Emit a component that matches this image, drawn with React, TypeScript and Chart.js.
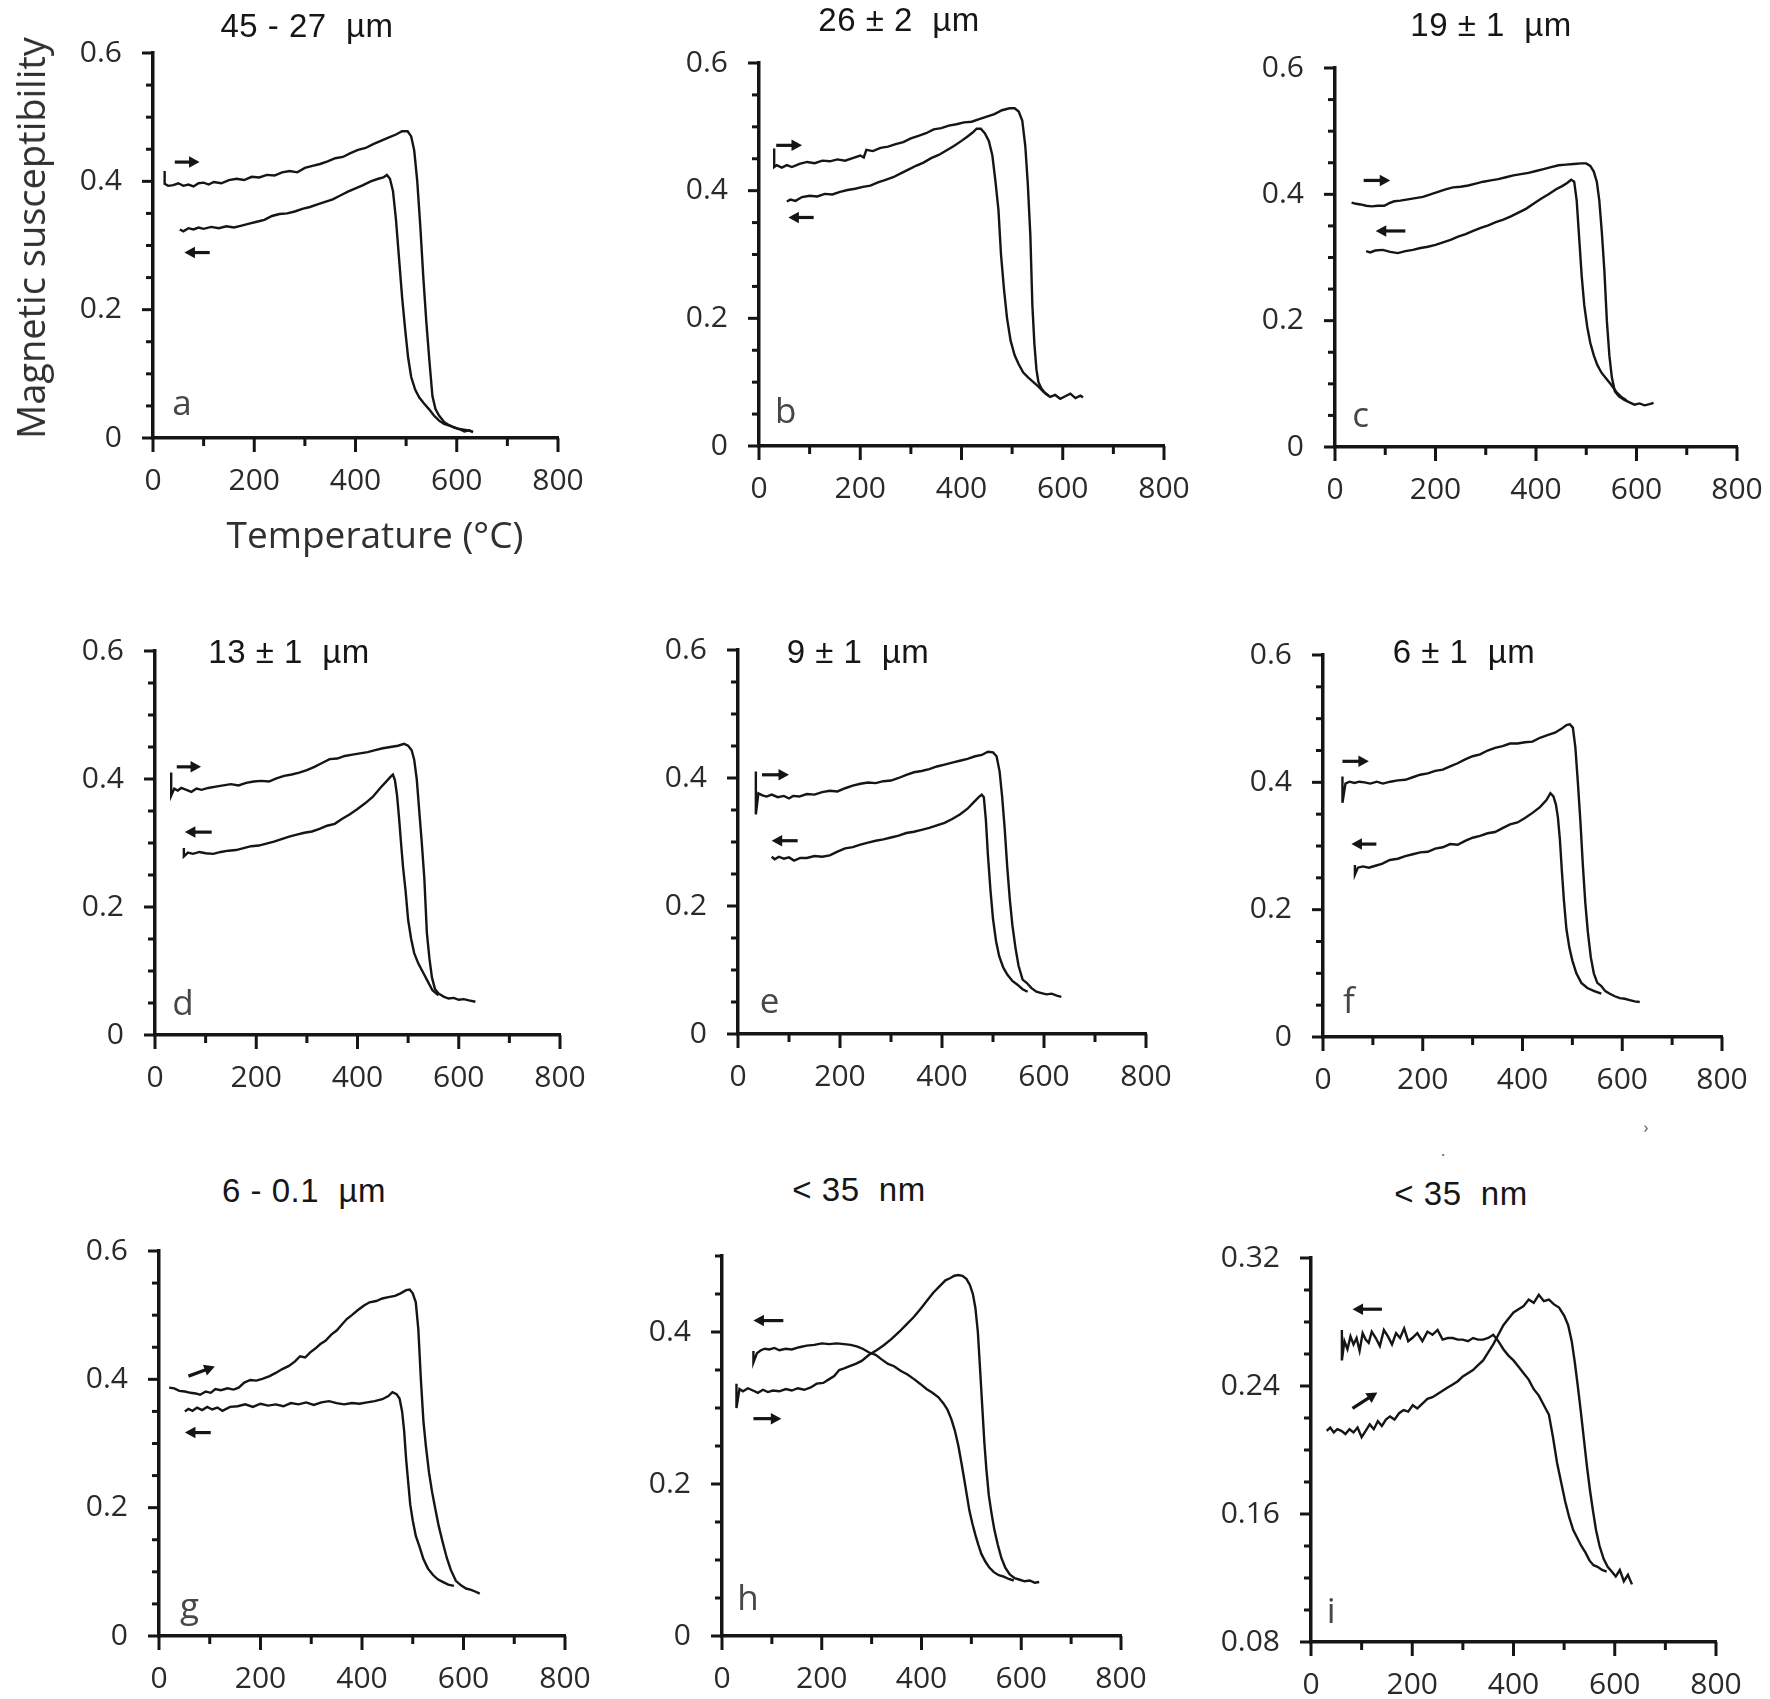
import React, { useEffect, useRef } from "react";
import { Chart, registerables } from "chart.js";

Chart.register(...registerables);

// ---- data: temperature (°C) and susceptibility, heating (up) and cooling (down) ----

// a: 45 - 27 µm
const aUpT = [23, 23, 30, 40, 50, 60, 70, 80, 90, 100, 110, 120, 135, 150, 165, 180, 195, 210, 225, 240, 255, 270, 285, 300, 315, 330, 345, 360, 375, 390, 405, 420, 435, 450, 465, 480, 492, 503, 510, 516, 522, 528, 534, 540, 546, 552, 558, 565, 575, 585, 595, 605, 615, 625, 632];
const aUpK = [0.416, 0.396, 0.393, 0.394, 0.397, 0.393, 0.395, 0.392, 0.397, 0.398, 0.395, 0.399, 0.397, 0.402, 0.404, 0.402, 0.407, 0.406, 0.41, 0.409, 0.414, 0.416, 0.414, 0.421, 0.424, 0.427, 0.431, 0.436, 0.438, 0.444, 0.449, 0.452, 0.458, 0.463, 0.468, 0.473, 0.478, 0.478, 0.47, 0.448, 0.4, 0.33, 0.25, 0.18, 0.12, 0.065, 0.045, 0.035, 0.025, 0.02, 0.016, 0.014, 0.01, 0.012, 0.009];
const aDnT = [53, 60, 70, 80, 90, 100, 115, 130, 145, 160, 175, 190, 205, 220, 235, 250, 265, 280, 295, 310, 325, 340, 355, 370, 385, 400, 415, 430, 445, 455, 462, 468, 474, 480, 486, 492, 498, 504, 510, 518, 526, 535, 545, 555, 565, 575, 590, 605, 620, 632];
const aDnK = [0.325, 0.322, 0.327, 0.325, 0.328, 0.326, 0.329, 0.327, 0.33, 0.328, 0.331, 0.334, 0.337, 0.34, 0.346, 0.349, 0.35, 0.353, 0.357, 0.36, 0.364, 0.368, 0.372, 0.378, 0.384, 0.389, 0.394, 0.4, 0.404, 0.406, 0.41, 0.404, 0.385, 0.34, 0.28, 0.22, 0.17, 0.125, 0.095, 0.075, 0.063, 0.054, 0.045, 0.035, 0.027, 0.022, 0.018, 0.014, 0.012, 0.01];

// b: 26 ± 2 µm
const bUpT = [30, 30, 35, 45, 55, 65, 80, 95, 110, 125, 140, 155, 170, 185, 200, 207, 212, 225, 240, 255, 270, 285, 300, 315, 330, 345, 360, 375, 390, 405, 420, 435, 450, 465, 480, 495, 505, 513, 520, 526, 531, 536, 540, 544, 548, 552, 558, 566, 575, 585, 595, 605, 615, 625, 635, 640];
const bUpK = [0.466, 0.437, 0.44, 0.436, 0.44, 0.437, 0.442, 0.445, 0.443, 0.447, 0.446, 0.449, 0.447, 0.451, 0.455, 0.452, 0.464, 0.462, 0.467, 0.469, 0.473, 0.476, 0.482, 0.486, 0.49, 0.496, 0.498, 0.502, 0.504, 0.507, 0.508, 0.512, 0.516, 0.52, 0.526, 0.529, 0.529, 0.524, 0.51, 0.47, 0.41, 0.33, 0.22, 0.16, 0.12, 0.1, 0.09, 0.082, 0.077, 0.08, 0.074, 0.078, 0.082, 0.075, 0.079, 0.076];
const bDnT = [55, 62, 72, 85, 100, 115, 130, 145, 160, 175, 190, 205, 220, 235, 250, 265, 280, 295, 310, 325, 340, 355, 370, 385, 400, 412, 422, 430, 438, 446, 454, 461, 467, 473, 478, 484, 490, 497, 505, 513, 522, 532, 542, 552, 562, 572];
const bDnK = [0.383, 0.386, 0.384, 0.39, 0.392, 0.391, 0.395, 0.394, 0.398, 0.401, 0.403, 0.406, 0.408, 0.413, 0.417, 0.421, 0.427, 0.433, 0.439, 0.444, 0.451, 0.456, 0.463, 0.47, 0.478, 0.485, 0.491, 0.497, 0.497, 0.49, 0.478, 0.455, 0.415, 0.37, 0.3, 0.245, 0.2, 0.165, 0.142, 0.128, 0.115, 0.107, 0.1, 0.093, 0.085, 0.079];

// c: 19 ± 1 µm
const cUpT = [33, 42, 51, 62, 73, 85, 98, 108, 118, 130, 145, 160, 175, 190, 205, 220, 235, 250, 265, 280, 295, 310, 325, 340, 355, 370, 385, 400, 415, 430, 445, 460, 475, 490, 500, 508, 515, 521, 526, 531, 536, 541, 546, 551, 557, 565, 575, 585, 596, 606, 616, 626, 634];
const cUpK = [0.387, 0.385, 0.384, 0.382, 0.381, 0.382, 0.382, 0.386, 0.389, 0.39, 0.392, 0.394, 0.396, 0.4, 0.404, 0.408, 0.411, 0.412, 0.414, 0.417, 0.42, 0.422, 0.424, 0.427, 0.43, 0.432, 0.434, 0.437, 0.44, 0.443, 0.446, 0.447, 0.448, 0.449, 0.449, 0.445, 0.436, 0.42, 0.39, 0.34, 0.28, 0.2, 0.145, 0.11, 0.088, 0.08, 0.075, 0.071, 0.067, 0.069, 0.066, 0.068, 0.07];
const cDnT = [62, 70, 80, 95, 110, 125, 140, 155, 170, 185, 200, 215, 230, 245, 260, 275, 290, 305, 320, 335, 350, 365, 380, 395, 410, 425, 440, 452, 462, 470, 476, 481, 486, 491, 496, 502, 508, 515, 522, 530, 540, 550, 560, 570, 580];
const cDnK = [0.31, 0.308, 0.311, 0.312, 0.309, 0.307, 0.31, 0.312, 0.315, 0.317, 0.32, 0.324, 0.328, 0.333, 0.337, 0.342, 0.347, 0.351, 0.356, 0.36, 0.365, 0.371, 0.377, 0.385, 0.393, 0.4, 0.408, 0.413, 0.418, 0.423, 0.42, 0.39, 0.33, 0.27, 0.225, 0.19, 0.165, 0.145, 0.13, 0.118, 0.108, 0.098, 0.087, 0.079, 0.074];

// d: 13 ± 1 µm
const dUpT = [32, 32, 38, 45, 52, 62, 72, 82, 92, 105, 120, 135, 150, 165, 180, 195, 210, 225, 240, 255, 270, 285, 300, 315, 330, 345, 360, 375, 390, 405, 420, 435, 450, 465, 480, 492, 500, 507, 512, 517, 522, 527, 532, 537, 542, 547, 553, 560, 570, 580, 590, 600, 610, 620, 633];
const dUpK = [0.41, 0.374, 0.385, 0.382, 0.386, 0.383, 0.38, 0.385, 0.383, 0.386, 0.388, 0.39, 0.392, 0.39, 0.394, 0.396, 0.397, 0.396, 0.401, 0.405, 0.407, 0.41, 0.414, 0.419, 0.425, 0.431, 0.432, 0.436, 0.438, 0.44, 0.442, 0.445, 0.448, 0.45, 0.452, 0.455, 0.452, 0.445, 0.43, 0.4, 0.35, 0.3, 0.245, 0.16, 0.12, 0.09, 0.072, 0.065, 0.06, 0.057, 0.058, 0.055, 0.056, 0.054, 0.052];
const dDnT = [57, 57, 65, 75, 88, 100, 115, 130, 145, 160, 175, 190, 205, 220, 235, 250, 265, 280, 295, 310, 325, 340, 355, 370, 385, 400, 415, 430, 445, 458, 466, 470, 474, 478, 482, 486, 490, 495, 500, 506, 512, 520, 528, 538, 548, 560];
const dDnK = [0.292, 0.279, 0.285, 0.283, 0.286, 0.284, 0.283, 0.286, 0.288, 0.289, 0.292, 0.295, 0.296, 0.299, 0.302, 0.306, 0.31, 0.313, 0.316, 0.318, 0.322, 0.327, 0.33, 0.338, 0.345, 0.353, 0.362, 0.372, 0.386, 0.397, 0.404, 0.407, 0.398, 0.375, 0.34, 0.3, 0.262, 0.225, 0.18, 0.15, 0.128, 0.112, 0.1, 0.085, 0.07, 0.062];

// e: 9 ± 1 µm
const eUpT = [35, 35, 40, 48, 56, 66, 78, 90, 100, 108, 120, 135, 150, 165, 180, 195, 210, 225, 240, 255, 270, 285, 300, 315, 330, 345, 360, 375, 390, 405, 420, 435, 450, 465, 478, 490, 500, 507, 513, 518, 523, 528, 533, 538, 544, 550, 558, 566, 575, 585, 595, 605, 615, 625, 634];
const eUpK = [0.41, 0.343, 0.376, 0.373, 0.371, 0.374, 0.37, 0.372, 0.368, 0.372, 0.371, 0.375, 0.374, 0.378, 0.38, 0.379, 0.384, 0.388, 0.391, 0.393, 0.392, 0.395, 0.396, 0.4, 0.405, 0.409, 0.411, 0.414, 0.418, 0.421, 0.424, 0.427, 0.43, 0.434, 0.436, 0.441, 0.44, 0.434, 0.41, 0.37, 0.32, 0.26, 0.21, 0.17, 0.135, 0.107, 0.085, 0.08, 0.072, 0.066, 0.064, 0.062, 0.063, 0.06, 0.058];
const eDnT = [66, 72, 80, 90, 100, 110, 122, 135, 150, 165, 180, 195, 210, 225, 240, 255, 270, 285, 300, 315, 330, 345, 360, 375, 390, 405, 420, 435, 450, 462, 472, 478, 482, 486, 490, 495, 500, 506, 512, 520, 528, 538, 548, 558, 568];
const eDnK = [0.277, 0.273, 0.277, 0.274, 0.276, 0.271, 0.275, 0.275, 0.278, 0.277, 0.279, 0.285, 0.29, 0.292, 0.296, 0.299, 0.302, 0.304, 0.307, 0.31, 0.314, 0.316, 0.319, 0.322, 0.326, 0.33, 0.336, 0.343, 0.352, 0.362, 0.37, 0.374, 0.37, 0.335, 0.28, 0.225, 0.18, 0.145, 0.122, 0.104, 0.093, 0.083, 0.077, 0.07, 0.066];

// f: 6 ± 1 µm
const fUpT = [39, 39, 45, 53, 63, 73, 83, 95, 108, 120, 135, 150, 165, 180, 195, 210, 225, 240, 255, 270, 285, 300, 315, 330, 345, 360, 375, 390, 405, 420, 435, 450, 465, 478, 488, 495, 501, 506, 511, 516, 521, 526, 531, 537, 543, 550, 558, 566, 575, 585, 595, 605, 615, 625, 635];
const fUpK = [0.409, 0.368, 0.398, 0.401, 0.399, 0.401, 0.4, 0.398, 0.401, 0.398, 0.401, 0.403, 0.404, 0.408, 0.412, 0.414, 0.418, 0.42, 0.425, 0.43, 0.436, 0.441, 0.444, 0.45, 0.454, 0.457, 0.461, 0.461, 0.463, 0.464, 0.47, 0.474, 0.478, 0.484, 0.49, 0.491, 0.486, 0.455, 0.4, 0.34, 0.27, 0.21, 0.165, 0.125, 0.1, 0.085, 0.08, 0.072, 0.068, 0.064, 0.061, 0.06, 0.058, 0.056, 0.055];
const fDnT = [64, 64, 70, 80, 92, 105, 118, 134, 150, 165, 180, 195, 210, 225, 240, 255, 270, 285, 300, 315, 330, 345, 360, 375, 390, 405, 420, 435, 448, 456, 462, 467, 471, 475, 479, 483, 488, 494, 500, 508, 518, 530, 544, 558];
const fDnK = [0.27, 0.255, 0.266, 0.268, 0.266, 0.269, 0.272, 0.278, 0.28, 0.284, 0.287, 0.29, 0.291, 0.296, 0.298, 0.303, 0.302, 0.308, 0.313, 0.316, 0.32, 0.322, 0.328, 0.334, 0.337, 0.344, 0.352, 0.361, 0.372, 0.383, 0.378, 0.365, 0.345, 0.31, 0.26, 0.215, 0.17, 0.14, 0.12, 0.1, 0.085, 0.077, 0.072, 0.068];

// g: 6 - 0.1 µm
const gUpT = [20, 30, 40, 51, 62, 72, 81, 92, 102, 111, 122, 135, 147, 157, 168, 180, 192, 205, 218, 230, 243, 256, 268, 278, 288, 298, 308, 318, 328, 340, 350, 360, 370, 380, 392, 404, 415, 428, 440, 452, 465, 476, 487, 494, 500, 506, 511, 516, 521, 526, 532, 538, 544, 551, 559, 567, 575, 585, 595, 605, 615, 624, 632];
const gUpK = [0.387, 0.386, 0.382, 0.381, 0.379, 0.378, 0.376, 0.381, 0.379, 0.385, 0.383, 0.386, 0.384, 0.387, 0.395, 0.399, 0.398, 0.401, 0.405, 0.41, 0.416, 0.421, 0.428, 0.436, 0.434, 0.442, 0.448, 0.455, 0.46, 0.47, 0.476, 0.485, 0.494, 0.5, 0.508, 0.515, 0.52, 0.522, 0.526, 0.528, 0.53, 0.534, 0.539, 0.54, 0.534, 0.52, 0.478, 0.4, 0.335, 0.295, 0.255, 0.225, 0.2, 0.172, 0.146, 0.122, 0.103, 0.086, 0.079, 0.074, 0.072, 0.069, 0.066];
const gDnT = [51, 58, 66, 75, 85, 95, 105, 115, 125, 140, 155, 170, 185, 200, 215, 230, 245, 260, 275, 290, 305, 320, 335, 350, 365, 380, 395, 410, 425, 440, 452, 460, 468, 474, 479, 483, 487, 491, 495, 500, 506, 513, 521, 530, 540, 550, 560, 570, 581];
const gDnK = [0.35, 0.354, 0.351, 0.356, 0.352, 0.357, 0.353, 0.356, 0.351, 0.357, 0.358, 0.361, 0.357, 0.362, 0.359, 0.361, 0.358, 0.363, 0.361, 0.364, 0.36, 0.364, 0.366, 0.363, 0.361, 0.363, 0.362, 0.364, 0.366, 0.369, 0.374, 0.38, 0.377, 0.37, 0.35, 0.32, 0.275, 0.24, 0.205, 0.18, 0.156, 0.14, 0.12, 0.105, 0.095, 0.088, 0.084, 0.08, 0.078];

// h: < 35 nm
const hUpT = [29, 29, 35, 42, 52, 62, 72, 82, 92, 102, 115, 128, 140, 152, 165, 178, 190, 203, 215, 225, 235, 245, 256, 268, 280, 295, 310, 325, 340, 355, 370, 385, 400, 412, 424, 436, 448, 458, 466, 474, 482, 490, 497, 503, 508, 513, 518, 522, 526, 530, 535, 540, 546, 553, 560, 568, 577, 587, 597, 607, 617, 627, 636];
const hUpK = [0.332, 0.3, 0.325, 0.322, 0.326, 0.323, 0.32, 0.324, 0.321, 0.323, 0.322, 0.325, 0.323, 0.326, 0.324, 0.327, 0.332, 0.333, 0.338, 0.342, 0.35, 0.352, 0.355, 0.358, 0.362, 0.37, 0.376, 0.383, 0.391, 0.4, 0.41, 0.42, 0.432, 0.442, 0.452, 0.46, 0.468, 0.471, 0.474, 0.475, 0.474, 0.47, 0.462, 0.45, 0.432, 0.4, 0.345, 0.3, 0.255, 0.22, 0.185, 0.163, 0.14, 0.12, 0.103, 0.09, 0.081, 0.076, 0.074, 0.072, 0.073, 0.07, 0.071];
const hDnT = [63, 63, 70, 78, 86, 95, 105, 115, 128, 140, 155, 170, 185, 200, 215, 230, 245, 258, 270, 282, 295, 308, 320, 333, 345, 358, 372, 385, 397, 410, 422, 434, 444, 452, 460, 467, 474, 480, 486, 491, 496, 502, 508, 514, 520, 528, 536, 545, 555, 565, 575, 585];
const hDnK = [0.375, 0.36, 0.372, 0.376, 0.378, 0.377, 0.379, 0.376, 0.378, 0.377, 0.38, 0.382, 0.383, 0.385, 0.384, 0.385, 0.384, 0.383, 0.381, 0.378, 0.373, 0.37, 0.364, 0.358, 0.355, 0.349, 0.344, 0.338, 0.332, 0.325, 0.32, 0.314, 0.306, 0.298, 0.285, 0.27, 0.25, 0.228, 0.205, 0.185, 0.165, 0.148, 0.133, 0.12, 0.108, 0.098, 0.09, 0.084, 0.08, 0.078, 0.075, 0.073];

// i: < 35 nm (expanded scale)
const iUpT = [31, 38, 45, 52, 60, 68, 76, 84, 92, 100, 108, 116, 124, 132, 140, 148, 156, 165, 174, 183, 192, 201, 210, 220, 230, 240, 250, 260, 270, 280, 290, 300, 310, 320, 330, 340, 350, 360, 370, 380, 390, 400, 410, 420, 430, 440, 450, 460, 470, 480, 490, 500, 508, 515, 521, 527, 533, 539, 545, 551, 557, 563, 570, 578, 586, 594, 602, 610, 618, 626, 634];
const iUpK = [0.212, 0.214, 0.211, 0.213, 0.212, 0.21, 0.213, 0.211, 0.214, 0.208, 0.212, 0.216, 0.213, 0.218, 0.215, 0.219, 0.221, 0.219, 0.223, 0.225, 0.224, 0.228, 0.226, 0.229, 0.232, 0.233, 0.235, 0.237, 0.239, 0.241, 0.243, 0.246, 0.248, 0.25, 0.253, 0.256, 0.261, 0.266, 0.272, 0.278, 0.282, 0.286, 0.288, 0.29, 0.294, 0.292, 0.297, 0.293, 0.294, 0.291, 0.289, 0.284, 0.278, 0.268, 0.255, 0.24, 0.224, 0.207, 0.19, 0.175, 0.162, 0.15, 0.14, 0.132, 0.127, 0.124, 0.121, 0.125, 0.118, 0.122, 0.116];
const iDnT = [61, 61, 66, 72, 78, 84, 90, 96, 102, 108, 114, 120, 128, 136, 144, 152, 160, 168, 176, 184, 192, 200, 210, 220, 230, 240, 250, 260, 270, 280, 290, 300, 310, 320, 330, 340, 350, 360, 370, 380, 390, 400, 410, 420, 430, 440, 450, 460, 470, 478, 486, 494, 502, 510, 518, 526, 534, 542, 550, 558, 566, 575, 584];
const iDnK = [0.275, 0.256, 0.268, 0.263, 0.271, 0.266, 0.27, 0.262, 0.273, 0.269, 0.267, 0.274, 0.27, 0.265, 0.275, 0.271, 0.266, 0.273, 0.27, 0.276, 0.268, 0.27, 0.273, 0.268, 0.274, 0.272, 0.275, 0.269, 0.27, 0.27, 0.269, 0.269, 0.268, 0.27, 0.269, 0.269, 0.27, 0.272, 0.268, 0.263, 0.259, 0.256, 0.252, 0.248, 0.244, 0.238, 0.234, 0.228, 0.222, 0.208, 0.192, 0.18, 0.168, 0.158, 0.15, 0.145, 0.14, 0.136, 0.131, 0.128, 0.127, 0.125, 0.124];

// direction arrows: [tFrom, tTo, kFrom, kTo]
const aArrows = [[43, 92, 0.43, 0.43], [112, 62, 0.289, 0.289]];
const bArrows = [[34, 85, 0.471, 0.471], [108, 58, 0.358, 0.358]];
const cArrows = [[57, 110, 0.422, 0.422], [140, 81, 0.342, 0.342]];
const dArrows = [[43, 91, 0.419, 0.419], [112, 59, 0.317, 0.317]];
const eArrows = [[47, 100, 0.405, 0.405], [117, 66, 0.302, 0.302]];
const fArrows = [[39, 92, 0.433, 0.433], [107, 57, 0.303, 0.303]];
const gArrows = [[58, 110, 0.405, 0.42], [102, 51, 0.317, 0.317]];
const hArrows = [[123, 63, 0.415, 0.415], [63, 119, 0.286, 0.286]];
const iArrows = [[140, 82, 0.288, 0.288], [82, 131, 0.226, 0.236]];

const xTicksMajor = 200;
const xTicksMinor = 100;

// ---- layout of the nine panels (page pixels) ----
type Panel = {
  id: string;
  title: string;
  upT: number[]; upK: number[]; dnT: number[]; dnK: number[];
  arrows: number[][];
  yMin: number; yMax: number; yMajor: number; yMinor: number;
  letterAt: [number, number];
  left: number; right: number; top: number; bottom: number;
  titleX: number; titleY: number;
};

const PANELS: Panel[] = [
  { id: "a", title: "45 - 27  µm", upT: aUpT, upK: aUpK, dnT: aDnT, dnK: aDnK, arrows: aArrows, yMin: 0, yMax: 0.6, yMajor: 0.2, yMinor: 0.05, letterAt: [57, 0.052], left: 153, right: 558, top: 35, bottom: 438, titleX: 307, titleY: 25 },
  { id: "b", title: "26 ± 2  µm", upT: bUpT, upK: bUpK, dnT: bDnT, dnK: bDnK, arrows: bArrows, yMin: 0, yMax: 0.6, yMajor: 0.2, yMinor: 0.05, letterAt: [53, 0.052], left: 759, right: 1164, top: 45, bottom: 446, titleX: 899, titleY: 19 },
  { id: "c", title: "19 ± 1  µm", upT: cUpT, upK: cUpK, dnT: cDnT, dnK: cDnK, arrows: cArrows, yMin: 0, yMax: 0.6, yMajor: 0.2, yMinor: 0.05, letterAt: [51, 0.047], left: 1335, right: 1737, top: 50, bottom: 447, titleX: 1491, titleY: 24 },
  { id: "d", title: "13 ± 1  µm", upT: dUpT, upK: dUpK, dnT: dDnT, dnK: dDnK, arrows: dArrows, yMin: 0, yMax: 0.6, yMajor: 0.2, yMinor: 0.05, letterAt: [55, 0.047], left: 155, right: 560, top: 633, bottom: 1035, titleX: 289, titleY: 651 },
  { id: "e", title: "9 ± 1  µm", upT: eUpT, upK: eUpK, dnT: eDnT, dnK: eDnK, arrows: eArrows, yMin: 0, yMax: 0.6, yMajor: 0.2, yMinor: 0.05, letterAt: [62, 0.048], left: 738, right: 1146, top: 632, bottom: 1034, titleX: 858, titleY: 651 },
  { id: "f", title: "6 ± 1  µm", upT: fUpT, upK: fUpK, dnT: fDnT, dnK: fDnK, arrows: fArrows, yMin: 0, yMax: 0.6, yMajor: 0.2, yMinor: 0.05, letterAt: [52, 0.053], left: 1323, right: 1722, top: 637, bottom: 1037, titleX: 1464, titleY: 651 },
  { id: "g", title: "6 - 0.1  µm", upT: gUpT, upK: gUpK, dnT: gDnT, dnK: gDnK, arrows: gArrows, yMin: 0, yMax: 0.6, yMajor: 0.2, yMinor: 0.05, letterAt: [60, 0.043], left: 159, right: 565, top: 1233, bottom: 1636, titleX: 304, titleY: 1190 },
  { id: "h", title: "< 35  nm", upT: hUpT, upK: hUpK, dnT: hDnT, dnK: hDnK, arrows: hArrows, yMin: 0, yMax: 0.5, yMajor: 0.2, yMinor: 0.05, letterAt: [52, 0.047], left: 722, right: 1121, top: 1238, bottom: 1636, titleX: 859, titleY: 1189 },
  { id: "i", title: "< 35  nm", upT: iUpT, upK: iUpK, dnT: iDnT, dnK: iDnK, arrows: iArrows, yMin: 0.08, yMax: 0.32, yMajor: 0.08, yMinor: 0.02, letterAt: [40, 0.098], left: 1311, right: 1716, top: 1240, bottom: 1642, titleX: 1461, titleY: 1193 },
];

const Y_AXIS_W = 100;
const X_AXIS_H = 70;
const PAD_TOP = 20;
const PAD_RIGHT = 45;
const INK = "#151515";
const TICK_TEXT = "#2a2a2a";
const TICK_FONT = { family: "'Open Sans', 'DejaVu Sans', sans-serif", size: 30 };

const isMultiple = (v: number, step: number, base = 0) => {
  const r = (v - base) / step;
  return Math.abs(r - Math.round(r)) < 1e-6;
};

function makeDecor(p: Panel) {
  return {
    id: "decor-" + p.id,
    afterDraw(chart: any) {
      const { ctx } = chart;
      const x = chart.scales.x;
      const y = chart.scales.y;
      ctx.save();
      ctx.strokeStyle = INK;
      ctx.lineCap = "butt";
      // outward tick marks, long for labelled values
      ctx.lineWidth = 3;
      x.ticks.forEach((t: any) => {
        const px = x.getPixelForValue(t.value);
        const len = isMultiple(t.value, xTicksMajor) ? 14 : 8;
        ctx.beginPath();
        ctx.moveTo(px, x.top);
        ctx.lineTo(px, x.top + len);
        ctx.stroke();
      });
      y.ticks.forEach((t: any) => {
        const py = y.getPixelForValue(t.value);
        const len = isMultiple(t.value, p.yMajor, p.yMin) ? 11 : 7;
        ctx.beginPath();
        ctx.moveTo(y.right - len, py);
        ctx.lineTo(y.right, py);
        ctx.stroke();
      });
      // heating / cooling arrows
      ctx.fillStyle = INK;
      ctx.lineWidth = 3.2;
      p.arrows.forEach(([t1, t2, k1, k2]) => {
        const x1 = x.getPixelForValue(t1);
        const y1 = y.getPixelForValue(k1);
        const x2 = x.getPixelForValue(t2);
        const y2 = y.getPixelForValue(k2);
        const ang = Math.atan2(y2 - y1, x2 - x1);
        const h = 12;
        ctx.beginPath();
        ctx.moveTo(x1, y1);
        ctx.lineTo(x2 - 6 * Math.cos(ang), y2 - 6 * Math.sin(ang));
        ctx.stroke();
        ctx.beginPath();
        ctx.moveTo(x2, y2);
        ctx.lineTo(x2 - h * Math.cos(ang - 0.5), y2 - h * Math.sin(ang - 0.5));
        ctx.lineTo(x2 - h * Math.cos(ang + 0.5), y2 - h * Math.sin(ang + 0.5));
        ctx.closePath();
        ctx.fill();
      });
      // panel letter
      ctx.fillStyle = "#474747";
      ctx.font = "35px 'Open Sans', 'DejaVu Sans', sans-serif";
      ctx.textAlign = "center";
      ctx.textBaseline = "middle";
      ctx.fillText(p.id, x.getPixelForValue(p.letterAt[0]), y.getPixelForValue(p.letterAt[1]));
      ctx.restore();
    },
  };
}

const toPoints = (t: number[], k: number[]) => t.map((v, i) => ({ x: v, y: k[i] }));

function PanelChart({ p }: { p: Panel }) {
  const ref = useRef<HTMLCanvasElement | null>(null);
  const width = Y_AXIS_W + (p.right - p.left) + PAD_RIGHT;
  const height = PAD_TOP + (p.bottom - p.top) + X_AXIS_H;

  useEffect(() => {
    if (!ref.current) return;
    const line = {
      borderColor: INK,
      borderWidth: 2.4,
      pointRadius: 0,
      tension: 0,
      fill: false,
    };
    const chart = new Chart(ref.current, {
      type: "line",
      data: {
        datasets: [
          { label: "heating", data: toPoints(p.upT, p.upK), ...line },
          { label: "cooling", data: toPoints(p.dnT, p.dnK), ...line },
        ],
      },
      options: {
        animation: false,
        responsive: false,
        events: [],
        layout: { padding: { left: 0, top: PAD_TOP, right: PAD_RIGHT, bottom: 0 } },
        plugins: { legend: { display: false }, tooltip: { enabled: false } },
        scales: {
          x: {
            type: "linear",
            min: 0,
            max: 800,
            afterFit: (s: any) => {
              s.height = X_AXIS_H;
            },
            ticks: {
              stepSize: xTicksMinor,
              autoSkip: false,
              maxRotation: 0,
              padding: 11,
              color: TICK_TEXT,
              font: TICK_FONT,
              callback: (v: any) => (isMultiple(Number(v), xTicksMajor) ? String(v) : ""),
            },
            grid: { display: true, drawOnChartArea: false, drawTicks: true, tickLength: 14, color: "transparent" },
            border: { display: true, color: INK, width: 3.5 },
          },
          y: {
            type: "linear",
            min: p.yMin,
            max: p.yMax,
            afterFit: (s: any) => {
              s.width = Y_AXIS_W;
            },
            ticks: {
              stepSize: p.yMinor,
              autoSkip: false,
              padding: 20,
              color: TICK_TEXT,
              font: TICK_FONT,
              callback: (v: any) => {
                const n = Number(v);
                return isMultiple(n, p.yMajor, p.yMin) ? String(+n.toFixed(2)) : "";
              },
            },
            grid: { display: true, drawOnChartArea: false, drawTicks: true, tickLength: 11, color: "transparent" },
            border: { display: true, color: INK, width: 3.5 },
          },
        },
      },
      plugins: [makeDecor(p)],
    });
    return () => {
      chart.destroy();
    };
  }, [p]);

  return (
    <canvas
      ref={ref}
      width={width}
      height={height}
      style={{
        position: "absolute",
        left: p.left - Y_AXIS_W,
        top: p.top - PAD_TOP,
        width,
        height,
      }}
    />
  );
}

const textBase: React.CSSProperties = {
  position: "absolute",
  whiteSpace: "pre",
  lineHeight: 1,
  transform: "translate(-50%, -50%)",
};

export default function App() {
  return (
    <div
      style={{
        position: "absolute",
        left: 0,
        top: 0,
        width: 1770,
        height: 1699,
        background: "#ffffff",
        overflow: "hidden",
      }}
    >
      {PANELS.map((p) => (
        <PanelChart key={p.id} p={p} />
      ))}
      {PANELS.map((p) => (
        <div
          key={"t" + p.id}
          style={{
            ...textBase,
            left: p.titleX,
            top: p.titleY,
            fontFamily: "'Liberation Sans', Arial, sans-serif",
            fontSize: 33,
            letterSpacing: 0.5,
            color: "#161616",
          }}
        >
          {p.title}
        </div>
      ))}
      <div
        style={{
          ...textBase,
          left: 30,
          top: 238,
          transform: "translate(-50%, -50%) rotate(-90deg)",
          fontFamily: "'Open Sans', sans-serif",
          fontSize: 38,
          color: "#303030",
        }}
      >
        Magnetic susceptibility
      </div>
      <div
        style={{
          ...textBase,
          left: 375,
          top: 533,
          fontFamily: "'Open Sans', sans-serif",
          fontSize: 37,
          color: "#303030",
        }}
      >
        Temperature (°C)
      </div>
      <div style={{ ...textBase, left: 1646, top: 1127, fontFamily: "'Open Sans', sans-serif", fontSize: 16, color: "#555" }}>›</div>
      <div style={{ ...textBase, left: 1443, top: 1150, fontFamily: "'Open Sans', sans-serif", fontSize: 16, color: "#555" }}>.</div>
    </div>
  );
}
